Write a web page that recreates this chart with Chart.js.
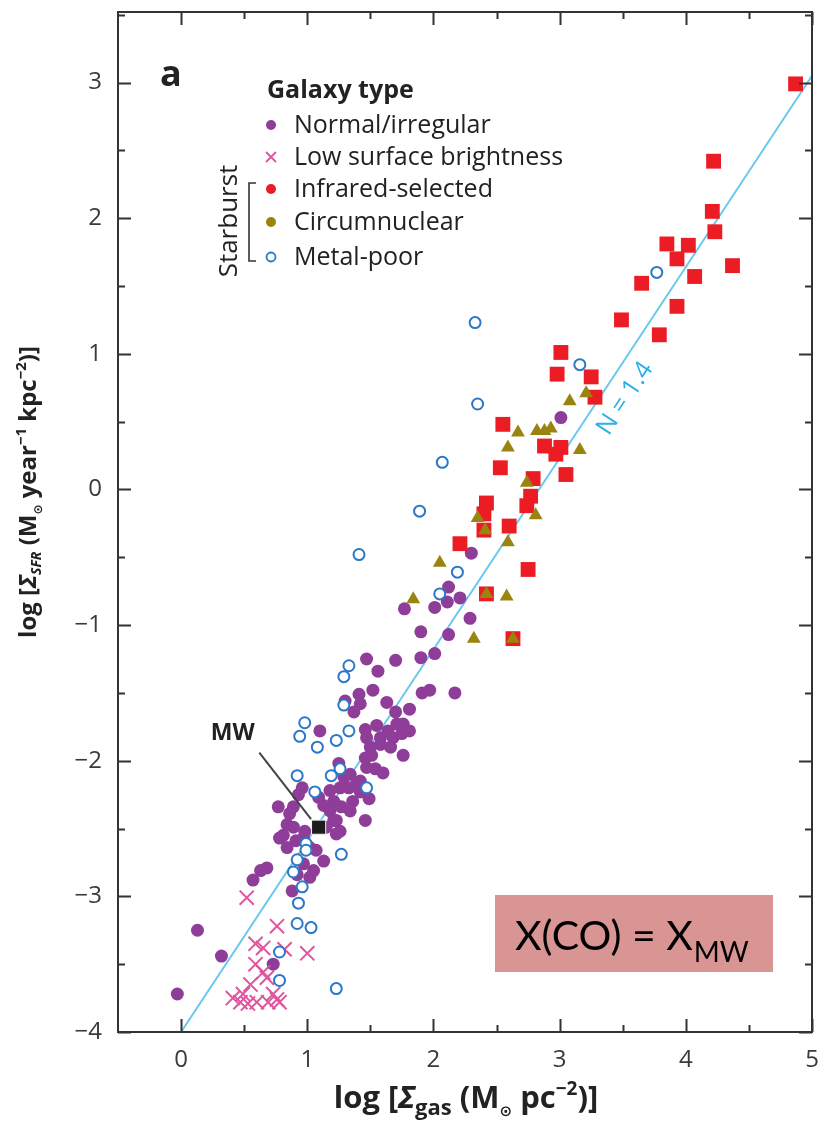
<!DOCTYPE html>
<html>
<head>
<meta charset="utf-8">
<script src="https://cdn.jsdelivr.net/npm/chart.js@4.4.1/dist/chart.umd.min.js"></script>
<style>
  html, body { margin: 0; padding: 0; background: #fff; }
  #wrap { width: 825px; height: 1127px; }
</style>
</head>
<body>
<div id="wrap"><canvas id="ks" width="825" height="1127"></canvas></div>
<script>
/* Kennicutt-Schmidt relation: log Sigma_SFR vs log Sigma_gas */

const xRange = [-0.5, 5];
const yRange = [-4, 3.52];

// [log Sigma_gas, log Sigma_SFR]
const normalIrregular = [
  [3.01, 0.53], [2.30, -0.47], [2.12, -0.72], [2.21, -0.80], [2.11, -0.83], [2.01, -0.87],
  [2.29, -0.95], [1.77, -0.88], [1.90, -1.05], [2.12, -1.07], [2.01, -1.21], [1.90, -1.24],
  [1.70, -1.26], [1.47, -1.25], [1.56, -1.34], [1.52, -1.48], [1.41, -1.51], [1.63, -1.57],
  [1.91, -1.50], [1.97, -1.48], [2.17, -1.50], [1.30, -1.56], [1.42, -1.58], [1.70, -1.64],
  [1.81, -1.62], [1.37, -1.64], [1.10, -1.78], [1.46, -1.77], [1.55, -1.74], [1.64, -1.78],
  [1.71, -1.73], [1.76, -1.73], [1.81, -1.78], [1.47, -1.83], [1.58, -1.83], [1.68, -1.83],
  [1.75, -1.80], [1.66, -1.90], [1.50, -1.90], [1.58, -1.88], [1.76, -1.96], [1.46, -1.98],
  [1.51, -1.96], [1.54, -2.06], [1.60, -2.09], [1.47, -2.05], [1.42, -2.15], [1.25, -2.02],
  [1.29, -2.12], [1.34, -2.10], [1.39, -2.17], [1.33, -2.20], [1.42, -2.23], [1.49, -2.28],
  [1.36, -2.30], [1.26, -2.20], [1.18, -2.22], [1.21, -2.30], [1.27, -2.34], [1.34, -2.37],
  [1.18, -2.37], [1.13, -2.33], [1.09, -2.27], [0.96, -2.20], [0.93, -2.25], [0.89, -2.34],
  [0.77, -2.34], [0.86, -2.39], [0.84, -2.47], [0.98, -2.52], [1.23, -2.44], [1.23, -2.54],
  [1.46, -2.44], [0.78, -2.57], [0.89, -2.49], [0.91, -2.59], [0.97, -2.57], [0.84, -2.64],
  [1.02, -2.64], [1.21, -2.44], [1.15, -2.49], [1.26, -2.52], [0.81, -2.55], [1.07, -2.66],
  [1.13, -2.74], [1.05, -2.81], [0.97, -2.76], [0.92, -2.84], [1.02, -2.86], [0.88, -2.96],
  [0.68, -2.79], [0.63, -2.81], [0.57, -2.88], [-0.03, -3.72], [0.13, -3.25], [0.32, -3.44],
  [0.73, -3.50]
];

const lowSurfaceBrightness = [
  [0.52, -3.01], [0.76, -3.22], [1.00, -3.42], [0.59, -3.35], [0.65, -3.38], [0.82, -3.39],
  [0.59, -3.50], [0.65, -3.56], [0.68, -3.60], [0.55, -3.65], [0.41, -3.75], [0.47, -3.78],
  [0.53, -3.79], [0.60, -3.78], [0.69, -3.78], [0.76, -3.76], [0.78, -3.78], [0.73, -3.72],
  [0.49, -3.72]
];

const infraredSelected = [
  [4.87, 2.99], [4.22, 2.42], [4.21, 2.05], [4.23, 1.90], [3.85, 1.81], [4.02, 1.80],
  [3.93, 1.70], [4.37, 1.65], [4.07, 1.57], [3.65, 1.52], [3.93, 1.35], [3.49, 1.25],
  [3.79, 1.14], [3.01, 1.01], [2.98, 0.85], [3.25, 0.83], [3.28, 0.68], [2.55, 0.48],
  [2.88, 0.32], [3.01, 0.31], [2.97, 0.26], [2.53, 0.16], [3.05, 0.11], [2.79, 0.08],
  [2.42, -0.10], [2.77, -0.05], [2.74, -0.12], [2.40, -0.18], [2.60, -0.27], [2.40, -0.30],
  [2.21, -0.40], [2.75, -0.59], [2.42, -0.77], [2.63, -1.10]
];

const circumnuclear = [
  [3.21, 0.71], [3.08, 0.65], [2.67, 0.42], [2.82, 0.43], [2.88, 0.43], [2.93, 0.45],
  [3.16, 0.29], [2.59, 0.31], [2.74, 0.05], [2.35, -0.21], [2.81, -0.19], [2.41, -0.30],
  [2.59, -0.39], [2.05, -0.54], [1.84, -0.81], [2.42, -0.77], [2.58, -0.79], [2.32, -1.10],
  [2.63, -1.10]
];

const metalPoor = [
  [3.77, 1.60], [2.33, 1.23], [3.16, 0.92], [2.35, 0.63], [2.07, 0.20], [1.89, -0.16],
  [1.41, -0.48], [2.19, -0.61], [2.05, -0.77], [1.33, -1.30], [1.29, -1.38], [1.29, -1.59],
  [0.98, -1.72], [0.94, -1.82], [1.08, -1.90], [1.23, -1.85], [1.33, -1.78], [1.26, -2.06],
  [1.19, -2.11], [0.92, -2.11], [1.06, -2.23], [1.47, -2.20], [0.99, -2.61], [0.99, -2.66],
  [1.27, -2.69], [0.92, -2.73], [0.89, -2.82], [0.96, -2.93], [0.93, -3.05], [0.92, -3.20],
  [1.03, -3.23], [0.78, -3.41], [0.78, -3.62], [1.23, -3.68]
];

const milkyWay = [[1.09, -2.49]];

// N = 1.4 power law
const fitLine = [[0, -4], [5, 3.05]];

const colors = {
  normal: '#8e3d98',
  lsb: '#e0559e',
  infrared: '#ec1c24',
  circum: '#9a8410',
  metal: '#2b78c6',
  fit: '#6ac8ef',
  fitText: '#2caee6'
};

const pts = arr => arr.map(([x, y]) => ({ x, y }));
const minus = v => (v < 0 ? '\u2212' + Math.abs(v) : String(v));

function drawRich(ctx, parts, x, y) {
  let w = 0;
  parts.forEach(p => { ctx.font = p.font; p.w = ctx.measureText(p.text).width; w += p.w; });
  let cx = x - w / 2;
  parts.forEach(p => { ctx.font = p.font; ctx.fillText(p.text, cx, y + (p.dy || 0)); cx += p.w; });
}

const decor = {
  id: 'decor',
  afterDatasetsDraw(chart) {
    const ctx = chart.ctx;
    const xs = chart.scales.x, ys = chart.scales.y;
    const px = v => xs.getPixelForValue(v), py = v => ys.getPixelForValue(v);

    // MW label and leader
    ctx.save();
    ctx.strokeStyle = '#444';
    ctx.lineWidth = 2;
    ctx.beginPath();
    ctx.moveTo(px(0.62), py(-1.94));
    ctx.lineTo(px(1.03), py(-2.43));
    ctx.stroke();
    ctx.fillStyle = '#222';
    ctx.font = 'bold 23px "Open Sans"';
    ctx.textAlign = 'center';
    ctx.textBaseline = 'middle';
    ctx.fillText('MW', px(0.41), py(-1.80));
    ctx.restore();

    // slope label along the fit
    const [a, b] = fitLine;
    const ang = Math.atan2(py(b[1]) - py(a[1]), px(b[0]) - px(a[0]));
    ctx.save();
    ctx.translate(px(3.52), py(0.67));
    ctx.rotate(ang);
    ctx.fillStyle = colors.fitText;
    ctx.font = '25px "Open Sans"';
    ctx.textAlign = 'center';
    ctx.textBaseline = 'middle';
    ctx.fillText('N = 1.4', 0, 0);
    ctx.restore();
  },
  afterDraw(chart) {
    const ctx = chart.ctx;
    const { left, right, top, bottom } = chart.chartArea;
    const xs = chart.scales.x, ys = chart.scales.y;

    // frame with inward ticks on all sides
    ctx.save();
    ctx.strokeStyle = '#333';
    ctx.lineWidth = 2;
    ctx.strokeRect(left, top, right - left, bottom - top);
    ctx.beginPath();
    for (let v = 0; v <= 5.001; v += 0.5) {
      const p = Math.round(xs.getPixelForValue(v)) + 0.5;
      const len = Number.isInteger(v) ? 13 : 7;
      ctx.moveTo(p, bottom); ctx.lineTo(p, bottom - len);
      ctx.moveTo(p, top); ctx.lineTo(p, top + len);
    }
    for (let v = -4; v <= 3.501; v += 0.5) {
      const p = Math.round(ys.getPixelForValue(v)) + 0.5;
      const len = Number.isInteger(v) ? 13 : 7;
      ctx.moveTo(left, p); ctx.lineTo(left + len, p);
      ctx.moveTo(right, p); ctx.lineTo(right - len, p);
    }
    ctx.stroke();
    ctx.restore();

    // panel letter and legend
    ctx.save();
    ctx.fillStyle = '#222';
    ctx.textBaseline = 'alphabetic';
    ctx.textAlign = 'left';
    ctx.font = 'bold 36px "Open Sans"';
    ctx.fillText('a', 160, 86);
    ctx.font = 'bold 25px "Open Sans"';
    ctx.fillText('Galaxy type', 267, 98);

    const rows = [
      ['Normal/irregular', 'dot', colors.normal, 125],
      ['Low surface brightness', 'cross', colors.lsb, 157],
      ['Infrared-selected', 'dot', colors.infrared, 189],
      ['Circumnuclear', 'dot', colors.circum, 222],
      ['Metal-poor', 'ring', colors.metal, 257]
    ];
    ctx.font = '25px "Open Sans"';
    ctx.textBaseline = 'middle';
    rows.forEach(([label, kind, col, y]) => {
      const mx = 271;
      if (kind === 'dot') {
        ctx.fillStyle = col;
        ctx.beginPath(); ctx.arc(mx, y, 5, 0, Math.PI * 2); ctx.fill();
      } else if (kind === 'ring') {
        ctx.strokeStyle = col; ctx.lineWidth = 1.8;
        ctx.beginPath(); ctx.arc(mx, y, 4.5, 0, Math.PI * 2); ctx.stroke();
      } else {
        ctx.strokeStyle = col; ctx.lineWidth = 1.8;
        ctx.beginPath();
        ctx.moveTo(mx - 5, y - 5); ctx.lineTo(mx + 5, y + 5);
        ctx.moveTo(mx + 5, y - 5); ctx.lineTo(mx - 5, y + 5);
        ctx.stroke();
      }
      ctx.fillStyle = '#222';
      ctx.fillText(label, 294, y + 1);
    });

    // starburst bracket
    ctx.strokeStyle = '#333';
    ctx.lineWidth = 1.6;
    ctx.beginPath();
    ctx.moveTo(256, 183); ctx.lineTo(249, 183); ctx.lineTo(249, 261); ctx.lineTo(256, 261);
    ctx.stroke();
    ctx.save();
    ctx.translate(230, 221);
    ctx.rotate(-Math.PI / 2);
    ctx.fillStyle = '#222';
    ctx.textAlign = 'center';
    ctx.font = '26px "Open Sans"';
    ctx.fillText('Starburst', 0, 0);
    ctx.restore();
    ctx.restore();

    // axis titles
    ctx.save();
    ctx.fillStyle = '#222';
    ctx.textAlign = 'left';
    ctx.textBaseline = 'alphabetic';
    const BX = 'bold 31px "Open Sans"';
    drawRich(ctx, [
      { text: 'log [', font: BX },
      { text: '\u03A3', font: 'italic bold 31px "Open Sans"' },
      { text: 'gas', font: 'bold 22px "Open Sans"', dy: 7 },
      { text: ' (M', font: BX },
      { text: '\u2299', font: 'bold 15px "DejaVu Sans"', dy: 8 },
      { text: ' pc', font: BX },
      { text: '\u22122', font: 'bold 19px "Open Sans"', dy: -13 },
      { text: ')]', font: BX }
    ], 466, 1108);

    const BY = 'bold 24px "Open Sans"';
    ctx.translate(36, 492);
    ctx.rotate(-Math.PI / 2);
    drawRich(ctx, [
      { text: 'log [', font: BY },
      { text: '\u03A3', font: 'italic bold 24px "Open Sans"' },
      { text: 'SFR', font: 'italic bold 14px "Open Sans"', dy: 5 },
      { text: ' (M', font: BY },
      { text: '\u2299', font: 'bold 12px "DejaVu Sans"', dy: 6 },
      { text: ' year', font: BY },
      { text: '\u22121', font: 'bold 15px "Open Sans"', dy: -10 },
      { text: ' kpc', font: BY },
      { text: '\u22122', font: 'bold 15px "Open Sans"', dy: -10 },
      { text: ')]', font: BY }
    ], 0, 0);
    ctx.restore();

    // conversion-factor tag
    ctx.save();
    ctx.fillStyle = '#d99594';
    ctx.fillRect(495, 895, 278, 77);
    ctx.fillStyle = '#000';
    ctx.textBaseline = 'alphabetic';
    ctx.textAlign = 'left';
    ctx.font = '41px "Lato"';
    const main = 'X(CO) = X';
    ctx.fillText(main, 515, 950);
    const w = ctx.measureText(main).width;
    ctx.font = '28px "Lato"';
    ctx.fillText('MW', 515 + w + 1, 962);
    ctx.restore();
  }
};

const tickFont = { family: 'Open Sans', size: 24 };

new Chart(document.getElementById('ks'), {
  type: 'scatter',
  data: {
    datasets: [
      { label: 'MW', data: pts(milkyWay), pointStyle: 'rect', pointRadius: 10,
        backgroundColor: '#1c1c1c', borderColor: '#f2f2f2', borderWidth: 1 },
      { label: 'Circumnuclear', data: pts(circumnuclear), pointStyle: 'triangle', pointRadius: 8,
        backgroundColor: colors.circum, borderColor: colors.circum, borderWidth: 0 },
      { label: 'Infrared-selected', data: pts(infraredSelected), pointStyle: 'rect', pointRadius: 10.5,
        backgroundColor: colors.infrared, borderColor: colors.infrared, borderWidth: 0 },
      { label: 'Metal-poor', data: pts(metalPoor), pointStyle: 'circle', pointRadius: 5.5,
        backgroundColor: '#ffffff', borderColor: colors.metal, borderWidth: 2 },
      { label: 'Low surface brightness', data: pts(lowSurfaceBrightness), pointStyle: 'crossRot', pointRadius: 10,
        borderColor: colors.lsb, borderWidth: 2 },
      { label: 'Normal/irregular', data: pts(normalIrregular), pointStyle: 'circle', pointRadius: 6.5,
        backgroundColor: colors.normal, borderColor: colors.normal, borderWidth: 0 },
      { label: 'N = 1.4', type: 'line', data: pts(fitLine), showLine: true, pointRadius: 0,
        borderColor: colors.fit, borderWidth: 2, fill: false }
    ]
  },
  options: {
    responsive: false,
    animation: false,
    devicePixelRatio: 1,
    layout: { padding: { left: 0, right: 13, top: 12, bottom: 0 } },
    plugins: { legend: { display: false }, tooltip: { enabled: false } },
    scales: {
      x: {
        type: 'linear', min: xRange[0], max: xRange[1],
        grid: { display: false, drawTicks: false }, border: { display: false },
        ticks: { stepSize: 1, includeBounds: false, autoSkip: false, maxRotation: 0, padding: 14,
          color: '#3a3a3a', font: tickFont,
          callback: v => (Number.isInteger(v) ? minus(v) : '') },
        afterFit(s) { s.height = 95; s.paddingLeft = 0; s.paddingRight = 0; }
      },
      y: {
        type: 'linear', min: yRange[0], max: yRange[1],
        grid: { display: false, drawTicks: false }, border: { display: false },
        ticks: { stepSize: 1, includeBounds: false, autoSkip: false, padding: 16,
          color: '#3a3a3a', font: tickFont,
          callback: v => (Number.isInteger(v) ? minus(v) : '') },
        afterFit(s) { s.width = 118; s.paddingTop = 0; s.paddingBottom = 0; }
      }
    }
  },
  plugins: [decor]
});
</script>
</body>
</html>
